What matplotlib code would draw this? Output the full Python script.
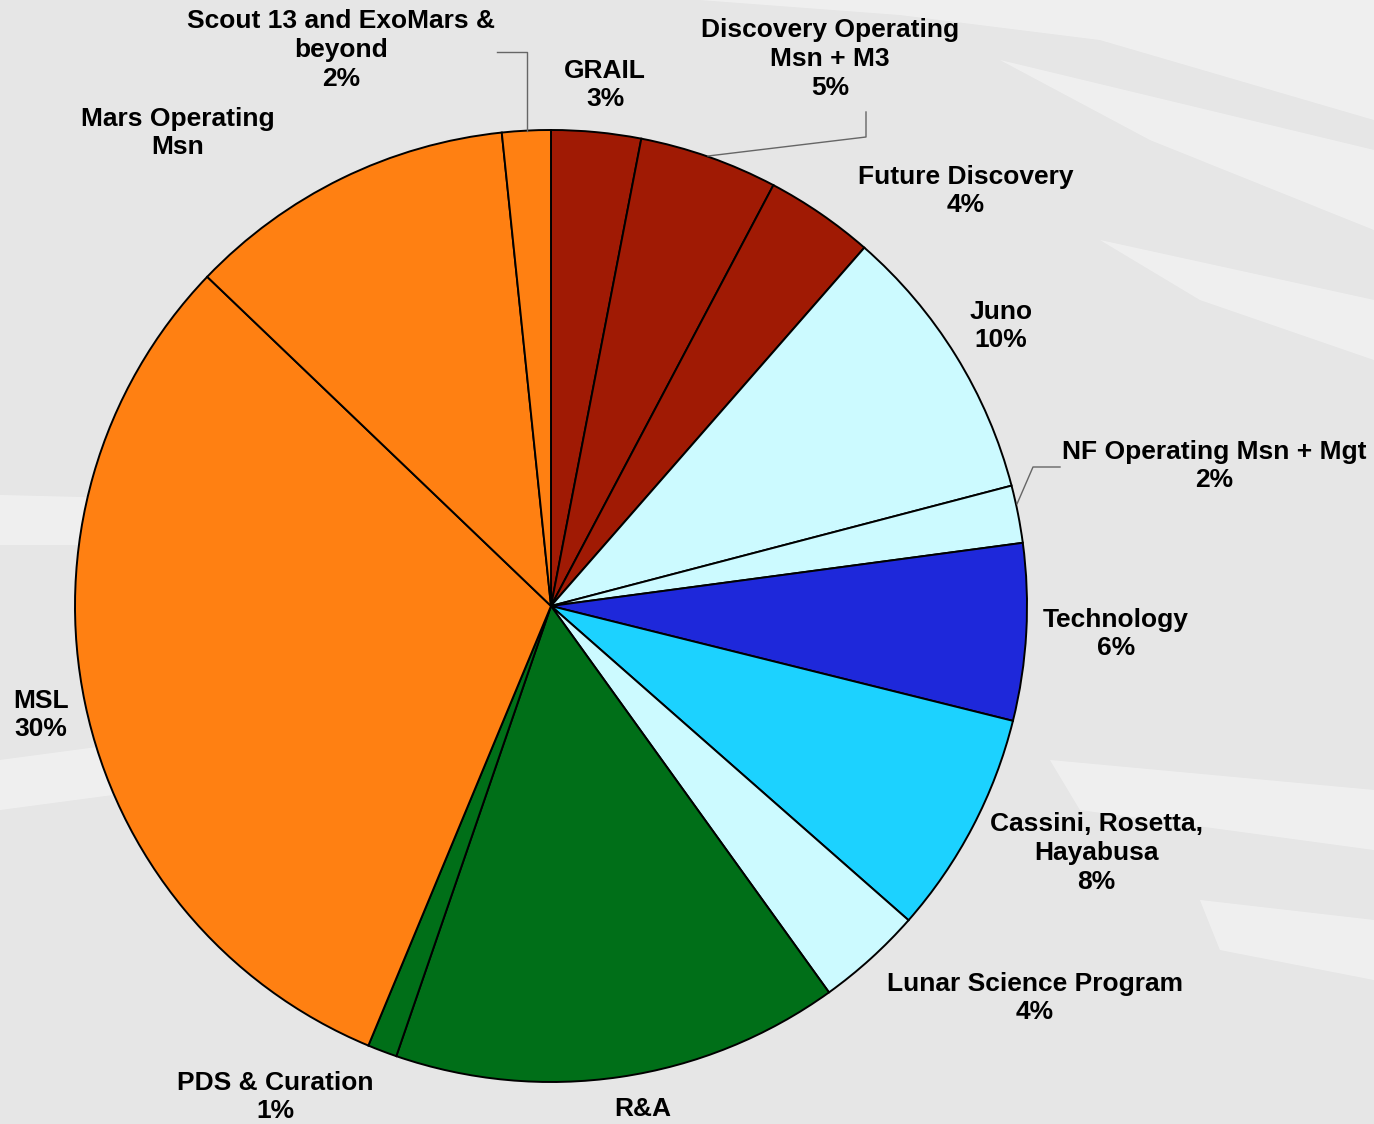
import matplotlib
matplotlib.use("Agg")
import matplotlib.pyplot as plt
from matplotlib.patches import Polygon

# ---- data ----
categories = ["GRAIL", "Discovery Operating\nMsn + M3", "Future Discovery", "Juno",
              "NF Operating Msn + Mgt", "Technology", "Cassini, Rosetta,\nHayabusa",
              "Lunar Science Program", "R&A", "PDS & Curation", "MSL",
              "Mars Operating\nMsn", "Scout 13 and ExoMars &\nbeyond"]
values = [3.04, 4.7, 3.7, 9.5, 1.95, 6.0, 7.6, 3.6, 15.2, 1.0, 30.9, 11.2, 1.65]
pct_labels = ["3%", "5%", "4%", "10%", "2%", "6%", "8%", "4%", None, "1%", "30%", None, "2%"]
colors = ["#A01A04", "#A01A04", "#A01A04", "#CCFAFF", "#CCFAFF", "#1E28DA",
          "#1CD2FF", "#CCFAFF", "#006F18", "#006F18", "#FF8012", "#FF8012", "#FF8012"]

# ---- layout (pixel coords, y measured from top) ----
W, H = 1374, 1124
cx, cy, R = 551, 606, 476
label_pos = [(605, 85), (830, 59), (966, 191), (1001, 326), (1214, 466), (1116, 634),
             (1096, 853), (1035, 998), (643, 1109), (275, 1097), (41, 715), (178, 133), (341, 50)]

fig = plt.figure(figsize=(W / 100, H / 100), dpi=100)
fig.patch.set_facecolor("#E6E6E6")
ax = fig.add_axes([0, 0, 1, 1])
ax.set_xlim(0, W)
ax.set_ylim(0, H)
ax.set_aspect("equal")
ax.axis("off")

def Y(y):
    return H - y

# background streaks
streaks = [
    [(700, 0), (1374, 0), (1374, 120), (1100, 40), (900, 15)],
    [(1000, 60), (1374, 150), (1374, 230), (1150, 140)],
    [(1100, 240), (1374, 300), (1374, 360), (1200, 300)],
    [(0, 495), (200, 500), (200, 545), (0, 545)],
    [(0, 760), (150, 740), (150, 790), (0, 810)],
    [(1050, 760), (1374, 790), (1374, 850), (1080, 810)],
    [(1200, 900), (1374, 920), (1374, 980), (1220, 950)],
]
for s in streaks:
    ax.add_patch(Polygon([(x, Y(y)) for x, y in s], closed=True, facecolor="white",
                         edgecolor="none", alpha=0.4, zorder=0))

ax.pie(values, colors=colors, startangle=90, counterclock=False,
       center=(cx, Y(cy)), radius=R, frame=True,
       wedgeprops=dict(edgecolor="black", linewidth=1.4))
ax.set_xlim(0, W)
ax.set_ylim(0, H)
ax.axis("off")

for cat, pct, (lx, ly) in zip(categories, pct_labels, label_pos):
    txt = cat if pct is None else cat + "\n" + pct
    ax.text(lx, Y(ly), txt, ha="center", va="center", fontsize=19,
            fontweight="bold", family="Liberation Sans", linespacing=1.25,
            color="black", zorder=5)

# leader lines
leaders = [
    [(527, 131), (527, 52), (497, 52)],
    [(708, 156), (866, 137), (866, 112)],
    [(1017, 504), (1033, 467), (1060, 467)],
]
for pts in leaders:
    ax.plot([p[0] for p in pts], [Y(p[1]) for p in pts], color="#666666", lw=1.0, zorder=4)

fig.savefig("out.png", dpi=100, facecolor=fig.get_facecolor())
